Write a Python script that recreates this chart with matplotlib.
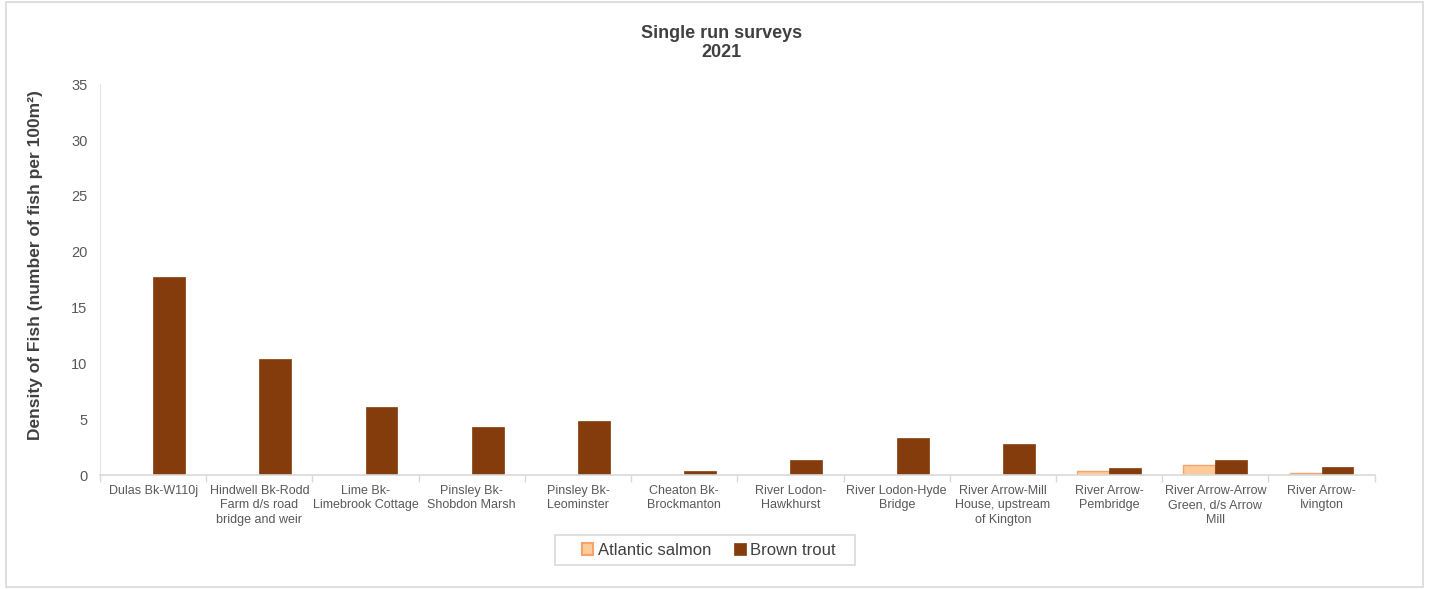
import numpy as np
import matplotlib.pyplot as plt
from matplotlib.patches import Rectangle

plt.rcParams['font.family'] = ['Liberation Sans', 'DejaVu Sans']

# Single run survey sites and fish densities (fish per 100 m2)
sites = [
    "Dulas Bk-W110j",
    "Hindwell Bk-Rodd\nFarm d/s road\nbridge and weir",
    "Lime Bk-\nLimebrook Cottage",
    "Pinsley Bk-\nShobdon Marsh",
    "Pinsley Bk-\nLeominster",
    "Cheaton Bk-\nBrockmanton",
    "River Lodon-\nHawkhurst",
    "River Lodon-Hyde\nBridge",
    "River Arrow-Mill\nHouse, upstream\nof Kington",
    "River Arrow-\nPembridge",
    "River Arrow-Arrow\nGreen, d/s Arrow\nMill",
    "River Arrow-\nIvington",
]
salmon = [0, 0, 0, 0, 0, 0, 0, 0, 0, 0.35, 0.9, 0.2]
trout = [17.7, 10.4, 6.1, 4.3, 4.8, 0.35, 1.35, 3.3, 2.8, 0.6, 1.35, 0.7]

salmon_color = "#FFCC99"
salmon_edge = "#F4A36E"
trout_color = "#843C0C"
text_color = "#595959"

fig = plt.figure(figsize=(14.29, 5.89), dpi=100)
fig.patches.append(Rectangle((0.004, 0.004), 0.992, 0.992, transform=fig.transFigure,
                             fill=False, edgecolor="#D9D9D9", linewidth=1.2))
ax = fig.add_axes([0.07, 0.1935, 0.892, 0.6635])

x = np.arange(len(sites))
w = 0.3
ax.bar(x - w / 2, salmon, w, color=salmon_color, edgecolor=salmon_edge,
       linewidth=1, label="Atlantic salmon")
ax.bar(x + w / 2, trout, w, color=trout_color, edgecolor=trout_color,
       linewidth=0.5, label="Brown trout")

ax.set_xlim(-0.5, len(sites) - 0.5)
ax.set_ylim(0, 35)
ax.set_yticks(range(0, 36, 5))
ax.tick_params(axis="y", length=0, labelsize=10.5, colors=text_color, pad=9)
ax.set_xticks(x)
ax.set_xticklabels(sites, fontsize=9, color=text_color, linespacing=1.3)
ax.tick_params(axis="x", length=0, pad=7)
# category separator ticks on the x axis
ax.set_xticks(np.arange(-0.5, len(sites), 1), minor=True)
ax.tick_params(axis="x", which="minor", length=5, color="#D9D9D9", width=1)

for side in ["top", "right"]:
    ax.spines[side].set_visible(False)
ax.spines["left"].set_color("#E6E6E6")
ax.spines["bottom"].set_color("#D9D9D9")
ax.spines["bottom"].set_linewidth(1.2)

ax.set_ylabel("Density of Fish (number of fish per 100m\u00b2)", fontsize=12.5,
              fontweight="bold", color="#404040")
ax.yaxis.set_label_coords(-0.045, 0.537)
fig.text(0.505, 0.927, "Single run surveys\n2021", ha="center", va="center",
         fontsize=13, fontweight="bold", color="#404040", linespacing=1.2)

# legend entries without frame, box drawn separately (wider than its contents)
leg = fig.legend(loc="center", bbox_to_anchor=(0.496, 0.066), ncol=2, frameon=False,
                 fontsize=12, handlelength=0.7, handleheight=0.7,
                 handletextpad=0.25, columnspacing=1.4, borderpad=0.3,
                 borderaxespad=0)
for t in leg.get_texts():
    t.set_color("#404040")
leg.legend_handles[0].set_edgecolor(salmon_edge)
leg.legend_handles[0].set_linewidth(1.5)
fig.patches.append(Rectangle((0.3884, 0.0407), 0.2099, 0.0509, transform=fig.transFigure,
                             fill=False, edgecolor="#D9D9D9", linewidth=1.2))

fig.savefig("out.png", dpi=100)
